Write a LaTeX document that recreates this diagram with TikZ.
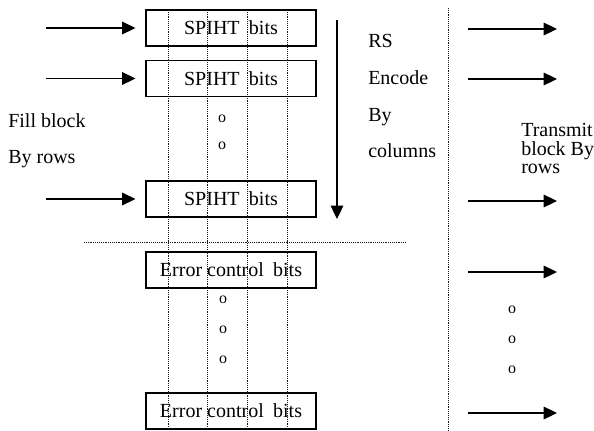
\documentclass[tikz,border=0pt]{standalone}
\usepackage{fontspec}
\setmainfont{Liberation Serif}
\usetikzlibrary{arrows.meta}
\begin{document}
\begin{tikzpicture}[x=0.75pt,y=-0.75pt,
  every node/.style={font=\fontsize{15}{18}\selectfont, inner sep=0pt},
  databox/.style={draw, line width=0.8pt, minimum width=127.5pt, minimum height=27pt},
  arr/.style={line width=0.8pt, -{Triangle[length=10pt,width=9.5pt]}},
  dotline/.style={line width=0.7pt, dash pattern=on 0.6pt off 0.8pt, black!90},
  lbl/.style={anchor=base west},
  dotmark/.style={font=\fontsize{12}{14}\selectfont}
]
\useasboundingbox (0,0) rectangle (594,430);

% boxes
\node[databox] (b1) at (231,28) {SPIHT\hspace{7pt}bits};
\node[databox] (b2) at (231,78.5) {SPIHT\hspace{7pt}bits};
\node[databox] (b3) at (231,199) {SPIHT\hspace{7pt}bits};
\node[databox] (e1) at (231,270) {Error control\hspace{7pt}bits};
\node[databox] (e2) at (231,411) {Error control\hspace{7pt}bits};

% column dotted lines
\foreach \x in {168,207,247,287}{
  \draw[dotline] (\x,10) -- (\x,429);
}
% separators
\coordinate (hs) at (84,242);
\coordinate (he) at (406,242);
\draw[dotline] (hs) -- (he);
\coordinate (vs) at (448,8);
\coordinate (ve) at (448,430);
\draw[dotline] (vs) -- (ve);

% left input arrows
\coordinate (l1) at (46,28);
\coordinate (l2) at (46,78.5);
\coordinate (l3) at (46,199);
\foreach \c/\b in {l1/b1,l2/b2,l3/b3}{
  \draw[arr, shorten >=7.5pt] (\c) -- (\c -| \b.west);
}

% right output arrows
\foreach \n/\y in {1/29,2/79,3/201,4/272,5/413}{
  \coordinate (rs\n) at (468,\y);
  \coordinate (re\n) at (557,\y);
  \draw[arr] (rs\n) -- (re\n);
}

% down arrow
\coordinate (ds) at (337,20);
\coordinate (de) at (337,219);
\draw[arr] (ds) -- (de);

% labels
\node[lbl] (fb) at (8,127) {Fill block};
\node[lbl] (br) at (8,163) {By rows};
\node[lbl] (rs) at (368,47) {RS};
\node[lbl] (en) at (368,84) {Encode};
\node[lbl] (by) at (368,121) {By};
\node[lbl] (co) at (368,157) {columns};
\node[lbl] (t1) at (521,136) {Transmit};
\node[lbl] (t2) at (521,155) {block By};
\node[lbl] (t3) at (521,173) {rows};

% dots
\node[dotmark] (o1) at (222,119) {o};
\node[dotmark] (o2) at (222,146) {o};
\node[dotmark] (o3) at (223,300) {o};
\node[dotmark] (o4) at (223,330) {o};
\node[dotmark] (o5) at (223,360) {o};
\node[dotmark] (o6) at (512,310) {o};
\node[dotmark] (o7) at (512,340) {o};
\node[dotmark] (o8) at (512,370) {o};
\end{tikzpicture}
\end{document}
